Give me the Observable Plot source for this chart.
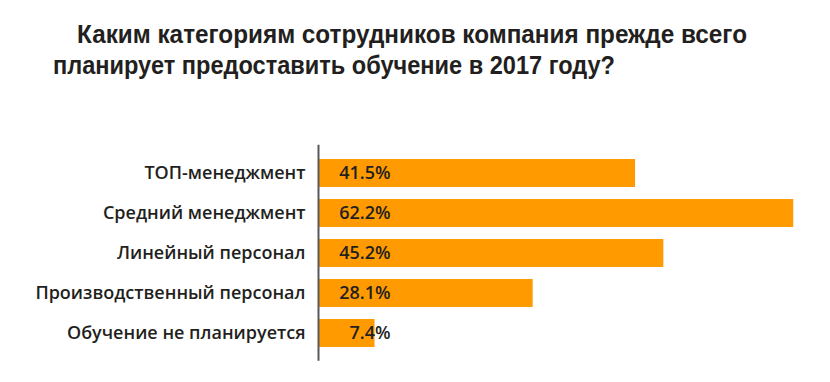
<!DOCTYPE html>
<html>
<head>
<meta charset="utf-8">
<script src="https://cdn.jsdelivr.net/npm/d3@7"></script>
<script src="https://cdn.jsdelivr.net/npm/@observablehq/plot@0.6"></script>
<style>
  html, body { margin: 0; padding: 0; background: #fff; }
  #wrap { width: 830px; }
  #title { position: relative; height: 100px; font-family: "Liberation Sans", Arial, sans-serif; font-weight: 700; color: #231f20; }
  #title div { position: absolute; white-space: nowrap; font-size: 26px; line-height: 29px; height: 29px; transform-origin: 0 50%; }
  #l1 { left: 77px; top: 20px; }
  #l2 { left: 53px; top: 51px; }
</style>
</head>
<body>
<div id="wrap">
  <div id="title"><div id="l1" data-w="670">Каким категориям сотрудников компания прежде всего</div><div id="l2" data-w="562">планирует предоставить обучение в 2017 году?</div></div>
  <div id="chart"></div>
</div>
<script>
const categories = ["ТОП-менеджмент", "Средний менеджмент", "Линейный персонал", "Производственный персонал", "Обучение не планируется"];
const values = [41.5, 62.2, 45.2, 28.1, 7.4];
const data = categories.map((c, i) => ({category: c, value: values[i]}));

// condense title lines to the reference widths
document.querySelectorAll("#title div").forEach(el => {
  const w = el.getBoundingClientRect().width;
  const target = +el.dataset.w;
  el.style.transform = `scaleX(${target / w})`;
});

const chart = Plot.plot({
  width: 830,
  height: 282,
  marginLeft: 318,
  marginRight: 15.4,
  marginTop: 46.75,
  marginBottom: 23.25,
  x: {domain: [0, 65], axis: null},
  y: {domain: categories, padding: 0.3, axis: null},
  style: {fontFamily: "Open Sans, sans-serif", fontSize: "18px", color: "#231f20", background: "#fff"},
  marks: [
    Plot.barX(data, {x: "value", y: "category", fill: "#ff9b00"}),
    Plot.ruleX([0], {stroke: "#58595b", strokeWidth: 2, insetTop: -2, insetBottom: -2}),
    Plot.axisY({tickSize: 0, tickPadding: 13, fontSize: 18, fontWeight: 600, fill: "#231f20", label: null}),
    Plot.text(data, {x: 0, y: "category", text: d => d.value.toFixed(1) + "%", dx: 72, textAnchor: "end", fontSize: 18, fontWeight: 600, fill: "#231f20"})
  ]
});
document.getElementById("chart").appendChild(chart);
</script>
</body>
</html>
